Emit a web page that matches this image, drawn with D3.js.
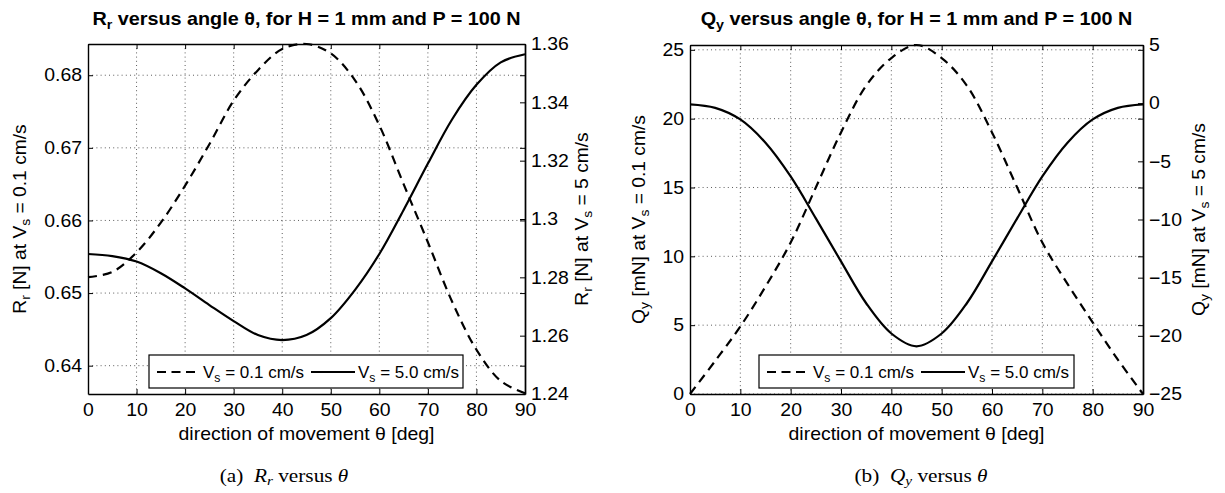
<!DOCTYPE html>
<html>
<head>
<meta charset="utf-8">
<script src="https://cdn.jsdelivr.net/npm/d3@7"></script>
<style>
  body { margin: 0; background: #fff; }
  text { font-family: "Liberation Sans", Arial, Helvetica, sans-serif; fill: #000; }
  .cap { font-family: "Liberation Serif", "Times New Roman", serif; }
</style>
</head>
<body>
<script>
const theta = [0, 5, 10, 15, 20, 25, 30, 35, 40, 45, 50, 55, 60, 65, 70, 75, 80, 85, 90];

// (a) Rr [N]
const rrSlow = [0.6522, 0.6529, 0.6556, 0.6597, 0.6648, 0.6705, 0.6765, 0.6807, 0.6836, 0.6843,
                0.6830, 0.6793, 0.6731, 0.6650, 0.6570, 0.6488, 0.6422, 0.6379, 0.6362];
const rrFast = [1.2880, 1.2873, 1.2854, 1.2814, 1.2762, 1.2705, 1.2650, 1.2602, 1.2585, 1.2602,
                1.2660, 1.2757, 1.2880, 1.3031, 1.3190, 1.3342, 1.3460, 1.3537, 1.3565];

// (b) Qy [mN]
const qySlow = [0, 2.4, 4.9, 7.8, 11.0, 15.0, 19.0, 22.4, 24.4, 25.35,
                24.4, 22.4, 19.0, 15.0, 11.0, 8.0, 5.2, 2.5, 0];
const qyFast = [-0.1, -0.4, -1.4, -3.4, -6.3, -9.9, -13.6, -17.2, -19.8, -20.9,
                -19.8, -17.2, -13.6, -9.9, -6.3, -3.4, -1.4, -0.4, -0.1];

const xTicks = [0, 10, 20, 30, 40, 50, 60, 70, 80, 90];
const rrLeftTicks = [0.64, 0.65, 0.66, 0.67, 0.68];
const rrRightTicks = [1.24, 1.26, 1.28, 1.30, 1.32, 1.34, 1.36];
const qyLeftTicks = [0, 5, 10, 15, 20, 25];
const qyRightTicks = [-25, -20, -15, -10, -5, 0, 5];

const W = 1225, H = 493;
const FS = 18;        // axis font size
const SX = 1.08;      // the picture is a bit stretched sideways

const svg = d3.select("body").append("svg")
  .attr("width", W).attr("height", H);

// text with subscript parts: parts = [[str, isSub], ...]
function subText(g, x, y, parts, opts) {
  opts = opts || {};
  let sx = opts.sx || SX;
  let t = g.append("text")
    .attr("text-anchor", opts.anchor || "middle")
    .attr("font-size", opts.size || FS)
    .attr("font-weight", opts.bold ? "bold" : null)
    .attr("transform", `translate(${x},${y})` + (opts.rotate ? ` rotate(${opts.rotate})` : "") + ` scale(${sx},1)`);
  let down = false;
  parts.forEach(p => {
    let s = t.append("tspan").text(p[0]);
    if (p[1] && !down) { s.attr("dy", "0.3em").attr("font-size", "0.72em"); down = true; }
    else if (!p[1] && down) { s.attr("dy", "-0.216em"); down = false; }
  });
  return t;
}

function fmtMinus(v) { return String(v).replace("-", "\u2212"); }

function panel(cfg) {
  const g = svg.append("g");
  const x = d3.scaleLinear().domain([0, 90]).range([cfg.x0, cfg.x1]);
  const yL = d3.scaleLinear().domain(cfg.leftDomain).range([cfg.y1, cfg.y0]);
  const yR = d3.scaleLinear().domain(cfg.rightDomain).range([cfg.y1, cfg.y0]);

  // grid
  g.append("g").selectAll("line").data(xTicks.slice(1, -1)).join("line")
    .attr("x1", d => x(d)).attr("x2", d => x(d))
    .attr("y1", cfg.y0).attr("y2", cfg.y1)
    .attr("stroke", "#333").attr("stroke-width", 0.8).attr("stroke-dasharray", "1,3.2");
  g.append("g").selectAll("line").data(cfg.leftTicks).join("line")
    .attr("x1", cfg.x0).attr("x2", cfg.x1)
    .attr("y1", d => yL(d)).attr("y2", d => yL(d))
    .attr("stroke", "#333").attr("stroke-width", 0.8).attr("stroke-dasharray", "1,3.2");

  // axes with inward ticks
  const tl = 5;
  const bottom = d3.axisBottom(x).tickValues(xTicks).tickSizeInner(-tl).tickSizeOuter(0).tickPadding(9);
  const top = d3.axisTop(x).tickValues(xTicks).tickSizeInner(-tl).tickSizeOuter(0).tickFormat("");
  const left = d3.axisLeft(yL).tickValues(cfg.leftTicks).tickSizeInner(-tl).tickSizeOuter(0).tickPadding(6);
  const leftMirror = d3.axisRight(yL).tickValues(cfg.leftTicks).tickSizeInner(-tl).tickSizeOuter(0).tickFormat("");
  const right = d3.axisRight(yR).tickValues(cfg.rightTicks).tickSizeInner(-tl).tickSizeOuter(0).tickPadding(6)
    .tickFormat(cfg.rightFormat);

  const axes = [
    [bottom, `translate(0,${cfg.y1})`],
    [top, `translate(0,${cfg.y0})`],
    [left.tickFormat(cfg.leftFormat), `translate(${cfg.x0},0)`],
    [leftMirror, `translate(${cfg.x1},0)`],
    [right, `translate(${cfg.x1},0)`]
  ];
  axes.forEach(a => {
    const ag = g.append("g").attr("transform", a[1]).call(a[0]);
    ag.select(".domain").attr("stroke", "#000").attr("stroke-width", 1.4);
    ag.selectAll(".tick line").attr("stroke", "#000").attr("stroke-width", 1);
    ag.selectAll(".tick text").attr("font-size", FS).attr("fill", "#000")
      .attr("font-family", '"Liberation Sans", Arial, sans-serif');
  });

  // scale tick labels sideways around their anchor
  g.selectAll(".tick text").each(function () {
    const t = d3.select(this);
    const ax = +t.attr("x") || 0, ay = +t.attr("y") || 0;
    t.attr("transform", `translate(${ax},${ay}) scale(${SX},1) translate(${-ax},${-ay})`);
  });

  // data lines
  const lineL = d3.line().x((d, i) => x(theta[i])).y(d => yL(d)).curve(d3.curveCatmullRom.alpha(0.5));
  const lineR = d3.line().x((d, i) => x(theta[i])).y(d => yR(d)).curve(d3.curveCatmullRom.alpha(0.5));
  g.append("path").datum(cfg.slow).attr("d", lineL)
    .attr("fill", "none").attr("stroke", "#000").attr("stroke-width", 2.2)
    .attr("stroke-dasharray", "9,6");
  g.append("path").datum(cfg.fast).attr("d", lineR)
    .attr("fill", "none").attr("stroke", "#000").attr("stroke-width", 2.2);

  // title
  const cx = (cfg.x0 + cfg.x1) / 2;
  subText(g, cx, 25, [[cfg.sym, false], [cfg.sub, true], [" versus angle \u03b8, for H = 1 mm and P = 100 N", false]],
    { bold: true, size: 18, sx: 1.1 });

  // x label
  subText(g, cx, 440, [["direction of movement \u03b8 [deg]", false]], { size: 18 });

  // y labels
  const cy = (cfg.y0 + cfg.y1) / 2;
  subText(g, cfg.ylx, cy, [[cfg.sym, false], [cfg.sub, true], [` ${cfg.unit} at V`, false], ["s", true], [" = 0.1 cm/s", false]],
    { rotate: -90, size: 17.5, sx: 1.1 });
  subText(g, cfg.yrx, cy, [[cfg.sym, false], [cfg.sub, true], [` ${cfg.unit} at V`, false], ["s", true], [" = 5 cm/s", false]],
    { rotate: -90, size: 17.5, sx: 1.1 });

  // legend
  const lg = g.append("g");
  lg.append("rect").attr("x", cfg.lx).attr("y", 355).attr("width", cfg.lw).attr("height", 33)
    .attr("fill", "#fff").attr("stroke", "#000").attr("stroke-width", 1.2);
  lg.append("line").attr("x1", cfg.lx + 8).attr("x2", cfg.lx + 51).attr("y1", 372).attr("y2", 372)
    .attr("stroke", "#000").attr("stroke-width", 2.2).attr("stroke-dasharray", "9,5.5");
  subText(lg, cfg.lx + 54, 378, [["V", false], ["s", true], [" = 0.1 cm/s", false]], { anchor: "start", size: 17, sx: 1 });
  lg.append("line").attr("x1", cfg.lx + 162).attr("x2", cfg.lx + 206).attr("y1", 372).attr("y2", 372)
    .attr("stroke", "#000").attr("stroke-width", 2.2);
  subText(lg, cfg.lx + 209, 378, [["V", false], ["s", true], [" = 5.0 cm/s", false]], { anchor: "start", size: 17, sx: 1 });

  // caption
  const cap = g.append("text").attr("class", "cap").attr("font-size", 18.5)
    .attr("text-anchor", "middle")
    .attr("transform", `translate(${cfg.capx},482) scale(1.15,1)`);
  cap.append("tspan").text(cfg.tag + "\u2002");
  cap.append("tspan").attr("font-style", "italic").text(cfg.sym);
  cap.append("tspan").attr("font-style", "italic").attr("font-size", "0.72em").attr("dy", "0.25em").text(cfg.capSub);
  cap.append("tspan").attr("dy", "-0.18em").text(" versus ");
  cap.append("tspan").attr("font-style", "italic").text("\u03b8");
}

panel({
  x0: 88, x1: 525, y0: 44, y1: 394,
  leftDomain: [0.6361, 0.6843], rightDomain: [1.24, 1.36],
  leftTicks: rrLeftTicks, rightTicks: rrRightTicks,
  leftFormat: d => d.toFixed(2), rightFormat: d => String(+d.toFixed(2)),
  slow: rrSlow, fast: rrFast,
  sym: "R", sub: "r", capSub: "r", unit: "[N]", tag: "(a)",
  ylx: 26, yrx: 588, lx: 149, lw: 314, capx: 284
});

panel({
  x0: 690, x1: 1143, y0: 45, y1: 394,
  leftDomain: [0, 25.35], rightDomain: [-25, 5],
  leftTicks: qyLeftTicks, rightTicks: qyRightTicks,
  leftFormat: d => String(d), rightFormat: fmtMinus,
  slow: qySlow, fast: qyFast,
  sym: "Q", sub: "y", capSub: "y", unit: "[mN]", tag: "(b)",
  ylx: 645, yrx: 1205, lx: 759, lw: 315, capx: 921
});
</script>
</body>
</html>
